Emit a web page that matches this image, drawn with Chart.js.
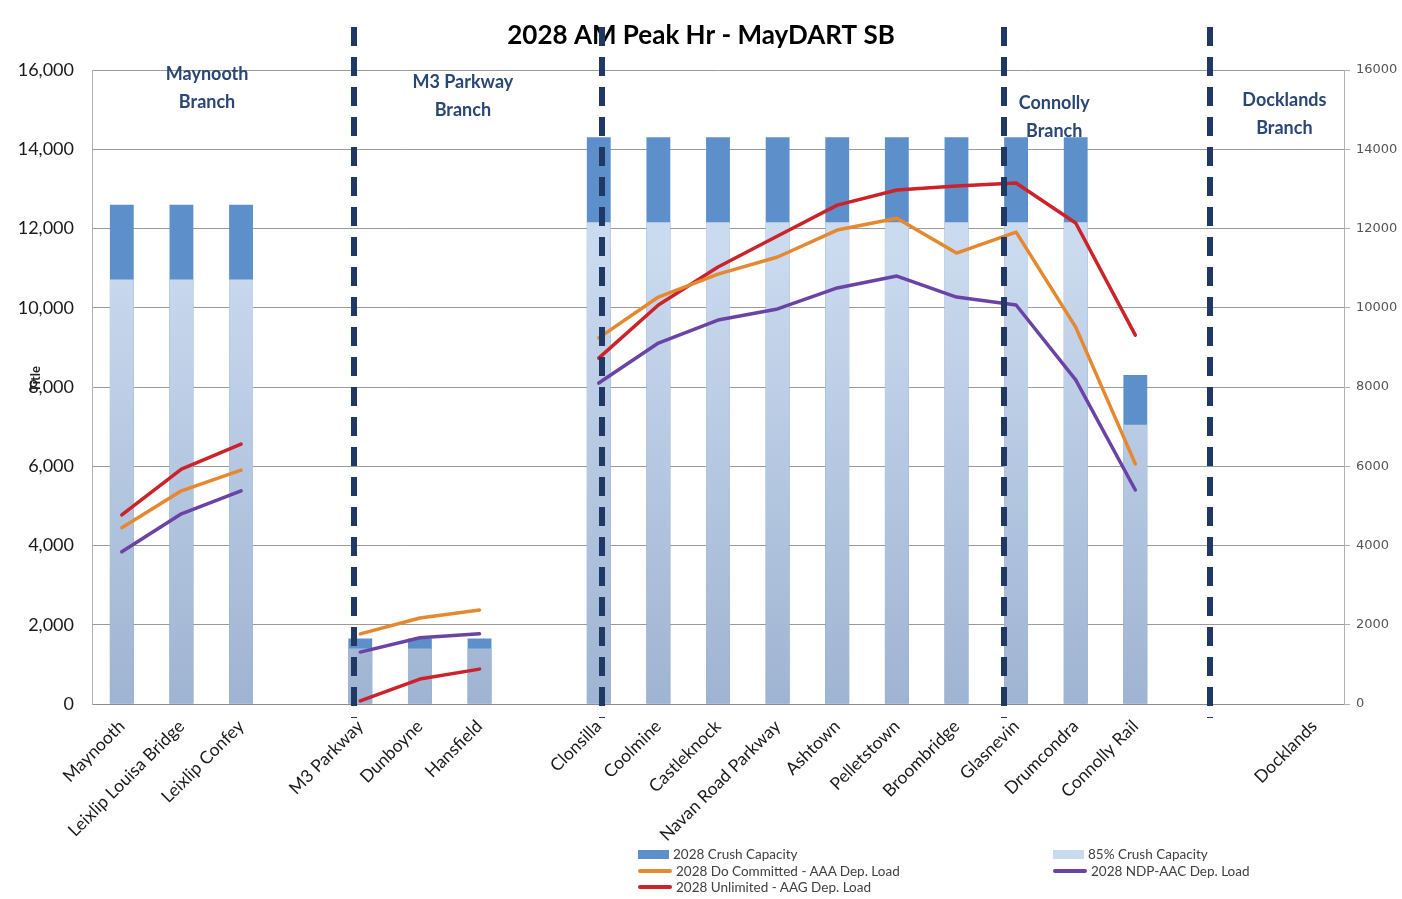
<!DOCTYPE html>
<html>
<head>
<meta charset="utf-8">
<title>2028 AM Peak Hr - MayDART SB</title>
<script src="https://cdn.jsdelivr.net/npm/chart.js@4.4.1/dist/chart.umd.min.js"></script>
<style>
  html, body { margin: 0; padding: 0; background: #fff; }
  #wrap { position: relative; width: 1402px; height: 899px; overflow: hidden; }
  #legend {
    position: absolute; left: 638px; top: 846px;
    display: grid; grid-template-columns: 415px auto; row-gap: 0;
    font-family: Lato, sans-serif; font-size: 13.5px; color: #404040; line-height: 16.5px;
  }
  .item { display: flex; align-items: center; white-space: nowrap; }
  .sw { display: inline-block; margin-right: 4px; }
</style>
</head>
<body>
<div id="wrap">
  <canvas id="chart" width="1402" height="899"></canvas>
  <div id="legend"></div>
</div>
<script>
// stations along the line, blanks are spacer slots between branches
var stations = [
  'Maynooth', 'Leixlip Louisa Bridge', 'Leixlip Confey', '',
  'M3 Parkway', 'Dunboyne', 'Hansfield', '',
  'Clonsilla', 'Coolmine', 'Castleknock', 'Navan Road Parkway', 'Ashtown',
  'Pelletstown', 'Broombridge', 'Glasnevin', 'Drumcondra', 'Connolly Rail',
  '', '', 'Docklands'
];

var crushCapacity = [12600, 12600, 12600, null, 1650, 1650, 1650, null,
  14300, 14300, 14300, 14300, 14300, 14300, 14300, 14300, 14300, 8300, null, null, null];
var crush85 = [10710, 10710, 10710, null, 1400, 1400, 1400, null,
  12155, 12155, 12155, 12155, 12155, 12155, 12155, 12155, 12155, 7050, null, null, null];

var doCommitted = [4450, 5380, 5900, null, 1770, 2170, 2370, null,
  9240, 10270, 10850, 11280, 11960, 12260, 11380, 11910, 9510, 6060, null, null, null];
var ndpAac = [3840, 4800, 5380, null, 1310, 1670, 1770, null,
  8100, 9110, 9690, 9970, 10500, 10800, 10270, 10070, 8180, 5400, null, null, null];
var unlimited = [4770, 5930, 6560, null, 80, 630, 880, null,
  8730, 10070, 11030, 11810, 12590, 12970, 13070, 13150, 12140, 9310, null, null, null];

var yTicks = [0, 2000, 4000, 6000, 8000, 10000, 12000, 14000, 16000];

// branch names
var branches = [['Maynooth', 'Branch'], ['M3 Parkway', 'Branch'], ['Connolly', 'Branch'], ['Docklands', 'Branch']];

var FONT = 'Lato, "Open Sans", sans-serif';

// divider lines + branch captions, placed in category units
var branchPlugin = {
  id: 'branches',
  afterDatasetsDraw: function(chart) {
    var ctx = chart.ctx, area = chart.chartArea, x = chart.scales.x, y = chart.scales.y;
    var dividers = [3.9, 8.05, 14.8, 18.25];
    ctx.save();
    ctx.strokeStyle = '#1f3864';
    ctx.lineWidth = 6;
    ctx.setLineDash([19, 11]);
    dividers.forEach(function(d) {
      var px = Math.round(x.getPixelForValue(d));
      ctx.beginPath();
      ctx.moveTo(px, area.top - 43);
      ctx.lineTo(px, area.bottom + 14);
      ctx.stroke();
    });
    ctx.setLineDash([]);

    var spots = [[1.43, 15900], [5.72, 15700], [15.64, 15150], [19.5, 15250]];
    ctx.font = 'bold 18px ' + FONT;
    ctx.fillStyle = '#2a4674';
    ctx.textAlign = 'center';
    ctx.textBaseline = 'middle';
    branches.forEach(function(b, i) {
      var px = x.getPixelForValue(spots[i][0]);
      var py = y.getPixelForValue(spots[i][1]);
      ctx.fillText(b[0], px, py);
      ctx.fillText(b[1], px, py + 28);
    });

    // excel placeholder axis title
    ctx.translate(area.left - 56, y.getPixelForValue(8200));
    ctx.rotate(-Math.PI / 2);
    ctx.font = 'bold 13px ' + FONT;
    ctx.fillStyle = '#222';
    ctx.fillText('Title', 0, 0);
    ctx.restore();
  }
};

var ctx = document.getElementById('chart').getContext('2d');

var lightGrad = function(context) {
  var area = context.chart.chartArea;
  if (!area) return '#c6d7ed';
  var g = context.chart.ctx.createLinearGradient(0, area.top, 0, area.bottom);
  g.addColorStop(0, '#d3e1f3');
  g.addColorStop(0.3, '#c9d9ee');
  g.addColorStop(1, '#9fb4d2');
  return g;
};

var config = {
  type: 'bar',
  data: {
    labels: stations,
    datasets: [
      {
        type: 'line', label: '2028 Do Committed - AAA Dep. Load', data: doCommitted,
        borderColor: '#e5882f', borderWidth: 3.5, pointRadius: 0, tension: 0,
        borderCapStyle: 'round', borderJoinStyle: 'round', order: 0, yAxisID: 'y'
      },
      {
        type: 'line', label: '2028 NDP-AAC Dep. Load', data: ndpAac,
        borderColor: '#6a44a4', borderWidth: 3.5, pointRadius: 0, tension: 0,
        borderCapStyle: 'round', borderJoinStyle: 'round', order: 0, yAxisID: 'y'
      },
      {
        type: 'line', label: '2028 Unlimited - AAG Dep. Load', data: unlimited,
        borderColor: '#cc2229', borderWidth: 3.5, pointRadius: 0, tension: 0,
        borderCapStyle: 'round', borderJoinStyle: 'round', order: 0, yAxisID: 'y'
      },
      {
        label: '85% Crush Capacity', data: crush85, backgroundColor: lightGrad,
        grouped: false, barPercentage: 0.4, categoryPercentage: 1, order: 1, yAxisID: 'y'
      },
      {
        label: '2028 Crush Capacity', data: crushCapacity, backgroundColor: '#5d90ca',
        grouped: false, barPercentage: 0.4, categoryPercentage: 1, order: 2, yAxisID: 'y'
      }
    ]
  },
  options: {
    responsive: false,
    animation: false,
    devicePixelRatio: 1,
    layout: { padding: { left: 0, right: 0, top: 0, bottom: 0 } },
    plugins: {
      legend: { display: false },
      tooltip: { enabled: false },
      title: {
        display: true,
        text: '2028 AM Peak Hr - MayDART SB',
        color: '#000',
        font: { family: FONT, size: 26, weight: 'bold', lineHeight: 1.2 },
        padding: { top: 20, bottom: 18.8 }
      }
    },
    scales: {
      x: {
        grid: { display: false, drawTicks: false },
        border: { display: true, color: '#8c8c8c' },
        ticks: {
          autoSkip: false, minRotation: 45, maxRotation: 45, padding: 12,
          color: '#1a1a1a', font: { family: FONT, size: 17.5 }
        },
        afterFit: function(scale) { scale.height = 195; }
      },
      y: {
        position: 'left', min: 0, max: 16000,
        afterBuildTicks: function(scale) { scale.ticks = yTicks.map(function(v) { return { value: v }; }); },
        grid: { color: '#9a9a9a', drawTicks: false },
        border: { display: true, color: '#b0b0b0' },
        ticks: {
          padding: 18, color: '#1a1a1a', font: { family: FONT, size: 18 },
          callback: function(v) { return v.toLocaleString('en-US'); }
        },
        afterFit: function(scale) { scale.width = 92; }
      },
      y1: {
        position: 'right', min: 0, max: 16000,
        afterBuildTicks: function(scale) { scale.ticks = yTicks.map(function(v) { return { value: v }; }); },
        grid: { drawOnChartArea: false, drawTicks: true, tickLength: 6, color: '#b0b0b0' },
        border: { display: true, color: '#b0b0b0' },
        ticks: {
          padding: 6, color: '#555', font: { family: '"DejaVu Sans", sans-serif', size: 13 },
          callback: function(v) { return String(v); }
        },
        afterFit: function(scale) { scale.width = 58; }
      }
    }
  },
  plugins: [branchPlugin]
};

window.myChart = new Chart(ctx, config);

// legend in excel's two column order
var legendOrder = ['2028 Crush Capacity', '85% Crush Capacity', '2028 Do Committed - AAA Dep. Load',
  '2028 NDP-AAC Dep. Load', '2028 Unlimited - AAG Dep. Load'];
var legendEl = document.getElementById('legend');
legendOrder.forEach(function(name) {
  var ds = config.data.datasets.filter(function(d) { return d.label === name; })[0];
  var item = document.createElement('div');
  item.className = 'item';
  var sw = document.createElement('span');
  sw.className = 'sw';
  if (ds.type === 'line') {
    sw.style.width = '34px'; sw.style.height = '4px'; sw.style.borderRadius = '2px';
    sw.style.background = ds.borderColor;
  } else {
    sw.style.width = '31px'; sw.style.height = '9px';
    sw.style.background = ds.label === '85% Crush Capacity' ? '#c9d9ee' : '#5d90ca';
  }
  item.appendChild(sw);
  item.appendChild(document.createTextNode(name));
  legendEl.appendChild(item);
});
</script>
</body>
</html>
